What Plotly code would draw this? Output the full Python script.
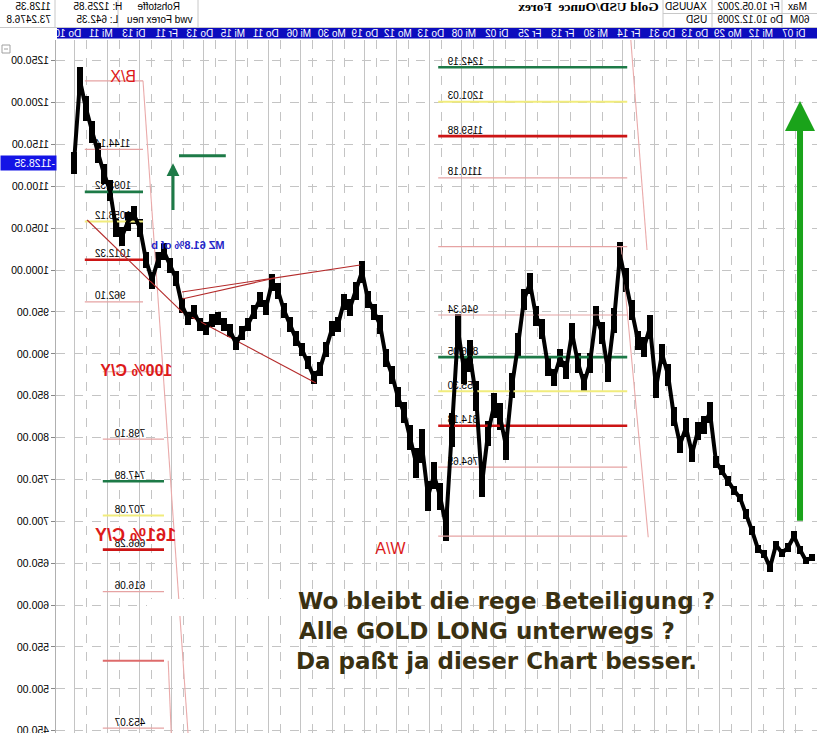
import plotly.graph_objects as go

# ---------------- data ----------------
# price per bar group, oldest (right side of the mirrored chart) -> newest (left)
price = [657, 653, 666, 682, 669, 662, 672, 645, 661, 667,
         689, 709, 728, 737, 748, 761, 771, 830, 815, 808,
         781, 812, 792, 825, 875, 900, 860, 932, 908, 916,
         952, 988, 1018, 940, 880, 925, 945, 889, 865, 889,
         925, 881, 895, 872, 885, 930, 945, 984, 965, 910,
         862, 790, 825, 838, 805, 745, 850, 897, 881, 928,
         809, 695, 730, 755, 730, 790, 770, 800, 830, 848,
         875, 895, 935, 950, 965, 998, 975, 955, 962, 935,
         930, 905, 882, 872, 890, 905, 918, 935, 952, 975,
         985, 955, 965, 950, 935, 925, 912, 928, 935, 942,
         940, 930, 935, 950, 942, 958, 990, 1005, 1022, 1012,
         988, 1012, 1050, 1066, 1058, 1040, 1050, 1095, 1115, 1140,
         1165, 1193, 1226, 1128]
# high-low range of each bar group (USD)
bar_range = [8, 8, 10, 12, 10, 10, 8, 12, 10, 10,
             10, 12, 10, 10, 12, 12, 14, 24, 22, 22,
             20, 22, 20, 22, 26, 24, 26, 28, 24, 22,
             24, 28, 30, 30, 28, 26, 24, 24, 22, 24,
             24, 22, 22, 20, 22, 24, 24, 26, 26, 30,
             30, 34, 32, 30, 30, 32, 36, 38, 34, 38,
             40, 36, 32, 32, 36, 40, 36, 30, 26, 24,
             22, 22, 22, 20, 20, 26, 22, 20, 20, 18,
             18, 18, 16, 16, 16, 16, 18, 18, 18, 20,
             20, 18, 18, 16, 16, 16, 16, 16, 16, 16,
             16, 16, 16, 16, 16, 18, 18, 18, 20, 20,
             20, 20, 22, 22, 22, 22, 22, 24, 24, 24,
             26, 30, 34, 26]
bars = list(range(len(price)))

y_tick_values = list(range(450, 1251, 50))

date_labels = ["Di 07", "Mi 12", "Mo 29", "Do 13", "Do 31", "Fr 14", "Mi 30",
               "Fr 13", "Fr 25", "Di 02", "Mi 08", "Do 13", "Mo 12", "Do 19",
               "Mo 30", "Mi 06", "Do 11", "Mi 15", "Do 13", "Fr 11", "Di 13",
               "Mi 11", "Do 10"]

last_price = 1128.35

# Fibonacci groups: values, labels, style kinds
left_levels = [1225.85, 1144.14, 1093.32, 1058.12, 1012.32, 962.10]
left_labels = ["", "1144.14", "1093.32", "1058.12", "1012.32", "962.10"]
left_kinds = ["thin", "thin", "green", "yellow", "red", "thin"]

low_levels = [878.6, 798.10, 747.89, 707.08, 666.28, 616.06, 533.6, 453.07]
low_labels = ["", "798.10", "747.89", "707.08", "666.28", "616.06", "", "453.07"]
low_kinds = ["thin", "thin", "green", "yellow", "red", "thin", "mid", "thin"]

right_levels = [1242.19, 1201.03, 1159.88, 1110.18, 1028.0, 946.34, 896.05,
                855.30, 814.18, 764.65, 682.35]
right_labels = ["1242.19", "1201.03", "1159.88", "1110.18", "", "946.34", "896.05",
                "855.30", "814.18", "764.65", ""]
right_kinds = ["green", "yellow", "red", "thin", "thin", "thin", "green",
               "yellow", "red", "thin", "thin"]

# bar-range of each group of level lines and where its labels start
left_span, left_label_at = (111.5, 121.2), 119.6
low_span, low_label_at = (108.0, 118.2), 116.3
right_span, right_label_at = (30.8, 62.3), 60.8

# trend / channel lines: (bar, price) end points
triangle_lines = [[(105.0, 973.8), (75.3, 1006.1)],
                  [(105.0, 965.5), (89.5, 990.5)],
                  [(120.8, 1059.8), (105.0, 950.0)],
                  [(105.0, 950.0), (82.7, 865.2)]]
projection_lines = [[(111.5, 1226.0), (104.0, 447.3)],
                    [(107.3, 533.6), (106.8, 447.3)],
                    [(30.2, 1274.7), (27.5, 1024.0)],
                    [(31.8, 1027.7), (27.3, 681.0)]]

# ---------------- figure ----------------
W, H = 817, 733
PL, PT = 56, 40
X_RANGE = [126.0, -0.83]
Y_RANGE = [447.3, 1274.7]


def pxX(x):
    return (x - PL) / (W - PL)


def pxY(y):
    return (H - y) / (H - PT)


STY = {"thin": ("#e6a3a3", 1.2), "green": ("#1d7a47", 2.6),
       "yellow": ("#f1ec7c", 2.0), "red": ("#cc1414", 2.6),
       "mid": ("#de6b6b", 2.0)}

fig = go.Figure()


def add_levels(vals, labels, kinds, span, label_at):
    for v, k in zip(vals, kinds):
        c, w = STY[k]
        fig.add_trace(go.Scatter(x=list(span), y=[v, v], mode="lines",
                                 line=dict(color=c, width=w),
                                 hoverinfo="skip", showlegend=False))
    lx = [label_at for l in labels if l]
    ly = [v for v, l in zip(vals, labels) if l]
    lt = [l for l in labels if l]
    fig.add_trace(go.Scatter(x=lx, y=ly, text=lt, mode="text",
                             textposition="top right",
                             textfont=dict(family="Liberation Sans, Arial", size=10, color="#000"),
                             hoverinfo="skip", showlegend=False))


add_levels(left_levels, left_labels, left_kinds, left_span, left_label_at)
add_levels(low_levels, low_labels, low_kinds, low_span, low_label_at)
add_levels(right_levels, right_labels, right_kinds, right_span, right_label_at)

for seg in projection_lines:
    fig.add_trace(go.Scatter(x=[p[0] for p in seg], y=[p[1] for p in seg], mode="lines",
                             line=dict(color="#eaaaaa", width=1.1),
                             hoverinfo="skip", showlegend=False))
for seg in triangle_lines:
    fig.add_trace(go.Scatter(x=[p[0] for p in seg], y=[p[1] for p in seg], mode="lines",
                             line=dict(color="#b42a2a", width=1.1),
                             hoverinfo="skip", showlegend=False))

# small green horizontal mark
fig.add_trace(go.Scatter(x=[105.5, 97.7], y=[1136.6, 1136.6], mode="lines",
                         line=dict(color="#1d7a47", width=3),
                         hoverinfo="skip", showlegend=False))

# price: high-low bars plus close line
fig.add_trace(go.Bar(x=bars, y=bar_range,
                     base=[p - r / 2 for p, r in zip(price, bar_range)],
                     width=0.9, marker=dict(color="#000000", line=dict(width=0)),
                     hoverinfo="skip", showlegend=False))
fig.add_trace(go.Scatter(x=bars, y=price, mode="lines",
                         line=dict(color="#000000", width=4),
                         hoverinfo="skip", showlegend=False))

# invisible trace on the overlay axis holding the date labels
label_pos = [3.1 + 5.5 * j for j in range(len(date_labels))]
fig.add_trace(go.Scatter(x=[label_pos[0]], y=[900], xaxis="x2", mode="markers",
                         marker=dict(opacity=0), hoverinfo="skip", showlegend=False))

grid_major = [4.73 + 5.37 * j for j in range(23)]
grid_minor = [2.73 + 5.37 * j for j in range(23)]

fig.update_layout(
    width=W, height=H,
    margin=dict(l=PL, r=0, t=PT, b=0, pad=0, autoexpand=False),
    paper_bgcolor="white", plot_bgcolor="white",
    font=dict(family="Liberation Sans, Arial", size=10, color="#000"),
    showlegend=False, bargap=0,
    xaxis=dict(range=X_RANGE, showticklabels=False, zeroline=False, showline=False,
               tickmode="array", tickvals=grid_major, ticks="", automargin=False,
               showgrid=True, gridcolor="#c4c4c4", gridwidth=1,
               minor=dict(tickvals=grid_minor, showgrid=True, gridcolor="#c4c4c4",
                          griddash="dash", gridwidth=1, ticks="")),
    xaxis2=dict(range=X_RANGE, overlaying="x", side="top", anchor="y", automargin=False,
                tickmode="array", tickvals=label_pos, ticktext=date_labels,
                tickfont=dict(family="Liberation Sans, Arial", size=10, color="white"),
                ticks="", showgrid=False, zeroline=False, showline=False),
    yaxis=dict(range=Y_RANGE, side="left", tickmode="array", tickvals=y_tick_values,
               tickformat=".2f", ticks="outside", ticklen=4, tickcolor="#888",
               automargin=False, ticklabeloverflow="allow",
               tickfont=dict(family="Liberation Sans, Arial", size=10.5, color="#000"),
               showline=True, linecolor="#b0b0b0", linewidth=1,
               showgrid=True, gridcolor="#c4c4c4", griddash="dash", zeroline=False),
)

shapes = []
# blue date bar
shapes.append(dict(type="rect", xref="paper", yref="paper", x0=pxX(57), x1=pxX(817),
                   y0=pxY(38.5), y1=pxY(27.5), fillcolor="#0c0cbe", line=dict(width=0),
                   layer="below"))
# header cell borders
for xv in [55, 118, 198, 663, 712, 782]:
    shapes.append(dict(type="line", xref="paper", yref="paper", x0=pxX(xv), x1=pxX(xv),
                       y0=pxY(0), y1=pxY(27), line=dict(color="#c8c8c8", width=1)))
shapes.append(dict(type="line", xref="paper", yref="paper", x0=pxX(663), x1=pxX(817),
                   y0=pxY(13.5), y1=pxY(13.5), line=dict(color="#c8c8c8", width=1)))
shapes.append(dict(type="line", xref="paper", yref="paper", x0=pxX(0), x1=pxX(817),
                   y0=pxY(27.5), y1=pxY(27.5), line=dict(color="#c8c8c8", width=1)))
# collapse icon
shapes.append(dict(type="rect", xref="paper", yref="paper", x0=pxX(2), x1=pxX(10),
                   y0=pxY(53), y1=pxY(45), line=dict(color="#a0a0a0", width=1),
                   fillcolor="white"))
shapes.append(dict(type="line", xref="paper", yref="paper", x0=pxX(4), x1=pxX(8),
                   y0=pxY(49), y1=pxY(49), line=dict(color="#a0a0a0", width=1)))
# white strip behind text
shapes.append(dict(type="rect", xref="paper", yref="paper", x0=pxX(147), x1=pxX(300),
                   y0=pxY(616), y1=pxY(599), fillcolor="white", line=dict(width=0),
                   layer="above"))
fig.update_layout(shapes=shapes)

ann = []


def ptext(x, y, text, size=10, color="#000", anchor="left", bold=False, family=None, bg=None):
    ann.append(dict(xref="paper", yref="paper", x=pxX(x), y=pxY(y), text=("<b>%s</b>" % text) if bold else text,
                    showarrow=False, xanchor=anchor, yanchor="middle",
                    font=dict(size=size, color=color, family=family or "Liberation Sans, Arial"),
                    bgcolor=bg, borderpad=0))


# header
ptext(52, 7, "1128.35", anchor="right")
ptext(52, 20, "73.2476.8", anchor="right")
ptext(72, 7, "H: 1225.85")
ptext(75, 20, "L: 642.35")
ptext(158, 7, "Rohstoffe", anchor="center")
ptext(160, 20, "vwd Forex neu", anchor="center")
ptext(660, 7, "Gold USD/Ounce&nbsp;&nbsp;Forex", size=13.5, bold=True, anchor="right",
      family="Liberation Serif, Times New Roman")
ptext(708, 7, "XAUUSD", anchor="right")
ptext(708, 20, "USD", anchor="right")
ptext(716, 7, "Fr 10.05.2002")
ptext(716, 20, "Do 10.12.2009")
ptext(787, 7, "Max")
ptext(789, 20, "60M")

# last price box on the axis
ann.append(dict(xref="paper", yref="y", x=pxX(0), y=last_price, text="-1128.35",
                showarrow=False, xanchor="left", yanchor="middle",
                font=dict(size=10.5, color="white", family="Liberation Sans, Arial"),
                bgcolor="#1414e6", borderpad=1, width=53, align="right"))

# chart labels (data coordinates)
red = "#dd1a1a"
ann.append(dict(x=114.8, y=1231.7, text="B/X", showarrow=False,
                font=dict(size=16, color=red, family="Liberation Sans, Arial")))
ann.append(dict(x=112.7, y=880.7, text="<b>100% C/Y</b>", showarrow=False,
                font=dict(size=16, color=red, family="Liberation Sans, Arial")))
ann.append(dict(x=112.7, y=683.7, text="<b>161% C/Y</b>", showarrow=False,
                font=dict(size=18, color=red, family="Liberation Sans, Arial")))
ann.append(dict(x=70.3, y=668.0, text="W/A", showarrow=False,
                font=dict(size=16, color=red, family="Liberation Sans, Arial")))
ann.append(dict(x=104.0, y=1030.0, text="<b>MZ 61.8% of b</b>", showarrow=False,
                font=dict(size=11, color="#2424c8", family="Liberation Sans, Arial")))

# arrows
ann.append(dict(x=106.5, y=1127.5, ax=106.5, ay=1070.0, xref="x", yref="y",
                axref="x", ayref="y", text="", showarrow=True, arrowhead=2,
                arrowsize=0.85, arrowwidth=3, arrowcolor="#1d7a47"))
ann.append(dict(x=2.0, y=1202.0, ax=2.0, ay=699.0, xref="x", yref="y",
                axref="x", ayref="y", text="", showarrow=True, arrowhead=2,
                arrowsize=1.0, arrowwidth=6, arrowcolor="#1aa31a"))

# German comment
txt_col = "#3a3112"
ptext(297, 601, "Wo bleibt die rege Beteiligung ?", size=23, color=txt_col, bold=True,
      family="DejaVu Sans")
ptext(298, 631, "Alle GOLD LONG unterwegs ?", size=23, color=txt_col, bold=True,
      family="DejaVu Sans")
ptext(295, 661, "Da paßt ja dieser Chart besser.", size=23, color=txt_col, bold=True,
      family="DejaVu Sans")

fig.update_layout(annotations=ann)

# page without body margin; chart texts are shown mirrored like the source screenshot
post = """
document.body.style.margin='0';
document.body.style.overflow='hidden';
var gd=document.getElementById('{plot_id}');
var skip=['Beteiligung','unterwegs','besser'];
gd.querySelectorAll('svg text').forEach(function(el){
  var t=el.textContent||'';
  if(!t.trim()) return;
  for(var k=0;k<skip.length;k++){ if(t.indexOf(skip[k])>=0) return; }
  try{
    var bb=el.getBBox(); var cx=bb.x+bb.width/2;
    var tr=el.getAttribute('transform')||'';
    el.setAttribute('transform', tr+' translate('+(2*cx)+',0) scale(-1,1)');
  }catch(e){}
});
"""
fig.write_html("out.html", post_script=post, config={"displayModeBar": False})
